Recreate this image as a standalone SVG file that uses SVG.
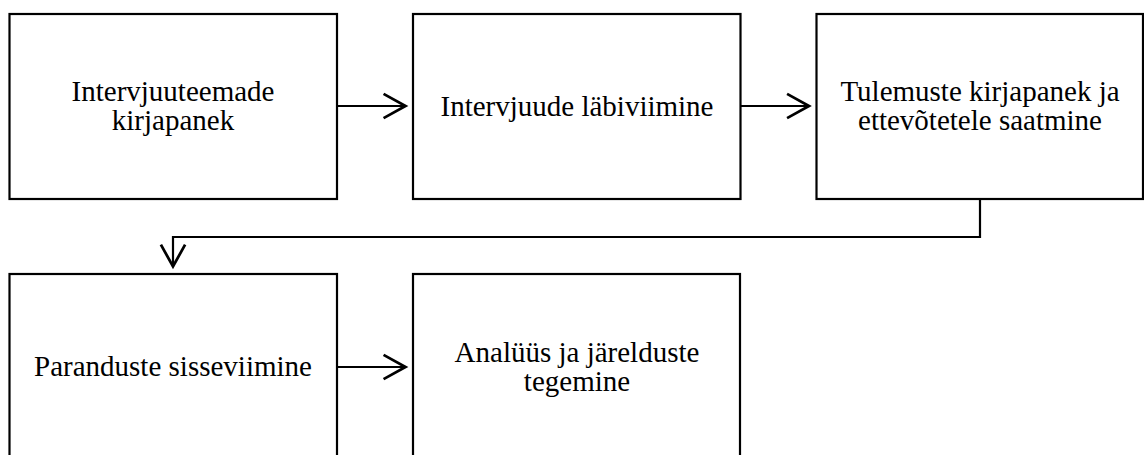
<svg xmlns="http://www.w3.org/2000/svg" width="1144" height="455" viewBox="0 0 1144 455">
  <style>
    .box { fill: #ffffff; stroke: #000000; stroke-width: 2.2; }
    .lbl { font-family: "Liberation Serif", "Times New Roman", serif; font-size: 29px; fill: #000000; text-anchor: middle; }
    .wire { fill: none; stroke: #000000; stroke-width: 2.2; }
  </style>
  <defs>
    <marker id="head" markerUnits="userSpaceOnUse" markerWidth="30" markerHeight="30" viewBox="-22 -13 26 26" refX="0" refY="0" orient="auto">
      <path d="M-19,-10.5 L0,0 L-19,10.5" fill="none" stroke="#000000" stroke-width="2.4"/>
    </marker>
  </defs>
  <rect width="1144" height="455" fill="#ffffff"/>

  <g id="n1">
    <rect class="box" x="9.5" y="14" width="327.5" height="185"/>
    <text class="lbl" x="173" y="101">Intervjuuteemade</text>
    <text class="lbl" x="173" y="130">kirjapanek</text>
  </g>
  <g id="n2">
    <rect class="box" x="413" y="14" width="327.5" height="185"/>
    <text class="lbl" x="577" y="115.5">Intervjuude läbiviimine</text>
  </g>
  <g id="n3">
    <rect class="box" x="816.5" y="14" width="326.5" height="185"/>
    <text class="lbl" x="980" y="101">Tulemuste kirjapanek ja</text>
    <text class="lbl" x="980" y="130">ettevõtetele saatmine</text>
  </g>
  <g id="n4">
    <rect class="box" x="9.5" y="274" width="327.5" height="185"/>
    <text class="lbl" x="173" y="376">Paranduste sisseviimine</text>
  </g>
  <g id="n5">
    <rect class="box" x="413" y="274" width="327" height="185"/>
    <text class="lbl" x="577" y="361.5">Analüüs ja järelduste</text>
    <text class="lbl" x="577" y="390.5">tegemine</text>
  </g>

  <g id="connectors">
    <line class="wire" x1="337" y1="106" x2="405.5" y2="106" marker-end="url(#head)"/>
    <line class="wire" x1="740.5" y1="106" x2="809" y2="106" marker-end="url(#head)"/>
    <polyline class="wire" points="980,199 980,237 173,237 173,266.5" marker-end="url(#head)"/>
    <line class="wire" x1="337" y1="367" x2="405.5" y2="367" marker-end="url(#head)"/>
  </g>
</svg>
